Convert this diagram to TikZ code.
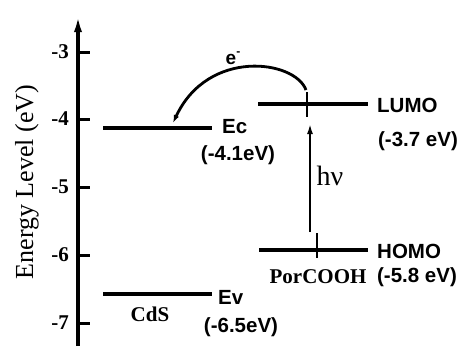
\documentclass[tikz,border=0pt]{standalone}
\usepackage{fontspec}
\setmainfont{Liberation Serif}
\setsansfont{Liberation Sans}
\usetikzlibrary{arrows.meta}
\begin{document}
\begin{tikzpicture}[x=1pt,y=-1pt,
  level/.style={line width=3.2pt},
  tickmark/.style={line width=3pt},
  ticklab/.style={anchor=east,inner sep=0pt,font=\fontsize{21}{21}\selectfont\bfseries},
  sanslab/.style={inner sep=0pt,font=\fontsize{20.5}{20.5}\selectfont\sffamily\bfseries},
  seriflab/.style={inner sep=0pt,font=\fontsize{21}{21}\selectfont\bfseries},
  spinmark/.style={line width=1.8pt}]
\useasboundingbox (0,0) rectangle (468,346);
% axis
\coordinate (axb) at (78,346);
\coordinate (axt) at (78,15);
\draw[line width=3.2pt,-{Latex[length=17pt,width=8pt]}] (axb) -- (axt);
\foreach \v/\y in {-3/52,-4/119,-5/187,-6/255,-7/323}{
  \draw[tickmark] (78,\y) -- (90,\y);
  \node[ticklab] at (69,\y) {\v};
}
\node[rotate=90,inner sep=0pt,font=\fontsize{26}{26}\selectfont] (ylab) at (27,182) {Energy Level (eV)};
% levels
\coordinate (ec1) at (103,128); \coordinate (ec2) at (212,128);
\coordinate (ev1) at (103,294); \coordinate (ev2) at (212,294);
\coordinate (lu1) at (258,104); \coordinate (lu2) at (368,104);
\coordinate (ho1) at (259,250); \coordinate (ho2) at (368,250);
\draw[level] (ec1) -- (ec2);
\draw[level] (ev1) -- (ev2);
\draw[level] (lu1) -- (lu2);
\draw[level] (ho1) -- (ho2);
% labels
\node[sanslab,anchor=west] (ec) at (222,127) {Ec};
\node[sanslab] (ecv) at (238,155) {(-4.1eV)};
\node[sanslab,anchor=west] (ev) at (218,297) {Ev};
\node[sanslab] (evv) at (241,327) {(-6.5eV)};
\node[seriflab] (cds) at (150,314) {CdS};
\node[sanslab,anchor=west] (lumo) at (377,105) {LUMO};
\node[sanslab] (lumov) at (418,141) {(-3.7 eV)};
\node[sanslab,anchor=west] (homo) at (377,251) {HOMO};
\node[sanslab] (homov) at (417,277) {(-5.8 eV)};
\node[seriflab] (por) at (318,277) {PorCOOH};
\node[inner sep=0pt,font=\fontsize{28}{28}\selectfont] (hv) at (330,176) {hν};
\node[inner sep=0pt,font=\fontsize{19}{19}\selectfont\sffamily\bfseries] (el) at (233,58) {e\raisebox{0.45em}{\fontsize{12}{12}\selectfont -}};
% transitions
\coordinate (hvs) at (310,232);
\coordinate (hve) at (310,124);
\draw[line width=1.8pt,-{Latex[length=10pt,width=6pt]}] (hvs) -- (hve);
\coordinate (cs) at (306,90);
\coordinate (ce) at (173,123);
\draw[line width=2.8pt,-{Latex[length=8pt,width=5.5pt]}] (cs) .. controls (295,60) and (208,48) .. (ce);
% spin marks
\coordinate (s1a) at (307,92); \coordinate (s1b) at (307,117);
\coordinate (s2a) at (317,233); \coordinate (s2b) at (317,258);
\draw[spinmark] (s1a) -- (s1b);
\draw[spinmark] (s2a) -- (s2b);
\end{tikzpicture}
\end{document}
